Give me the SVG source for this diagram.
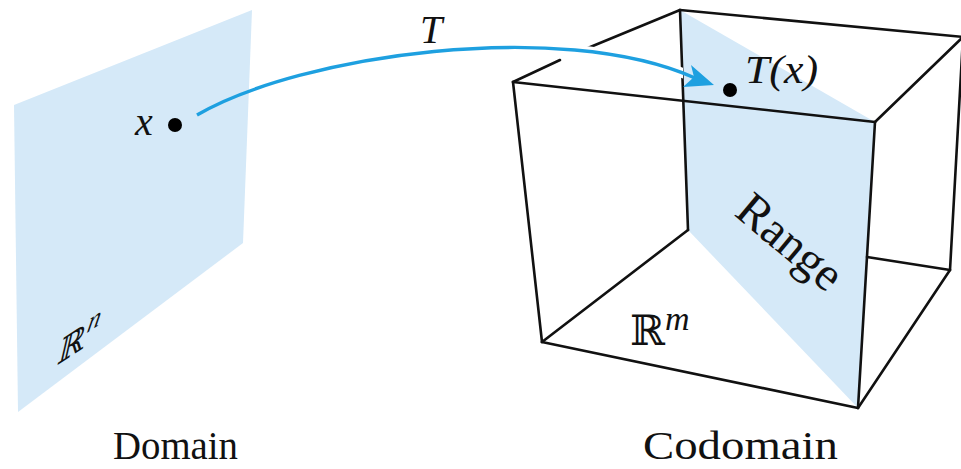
<svg xmlns="http://www.w3.org/2000/svg" width="961" height="469" viewBox="0 0 961 469">
<style>
.plane{fill:#d5e9f8;stroke:none}
.edge{stroke:#111;stroke-width:2.6;fill:none;stroke-linecap:round}
.math{font-style:italic;fill:#111}
.cap{fill:#111}
.arrow{stroke:#1ea0e0;stroke-width:3.4;fill:none}
</style>
<defs>
<clipPath id="haloClip"><rect x="545" y="0" width="138" height="469"/></clipPath>
</defs>
<g id="domain">
<polygon class="plane" points="14,105 252,10 243,243 18,412"/>
<circle cx="175" cy="125" r="7" fill="#000"/>
<text class="math" font-family="Liberation Serif, serif" x="135" y="135" font-size="40">x</text>
<g transform="translate(56,366) skewY(-33) skewX(-15)">
<text font-family="DejaVu Serif, serif" fill="#111" x="0" y="0" font-size="32">ℝ<tspan font-family="Liberation Serif, serif" font-style="italic" font-size="26" dy="-13">n</tspan></text>
</g>
<text class="cap" font-family="Liberation Serif, serif" x="113" y="459" font-size="40" textLength="125" lengthAdjust="spacingAndGlyphs">Domain</text>
</g>
<g id="codomain">
<polygon class="plane" points="680,10 875,122 858,408 688,230"/>
<line class="edge" x1="680" y1="10" x2="583" y2="50"/>
<line class="edge" x1="560" y1="60" x2="513" y2="82"/>
<line class="edge" x1="680" y1="10" x2="688" y2="230"/>
<line class="edge" x1="867" y1="257" x2="950" y2="270"/>
<line class="edge" x1="680" y1="10" x2="963" y2="37"/>
<line class="edge" x1="963" y1="37" x2="950" y2="270"/>
<text font-family="DejaVu Serif, serif" fill="#111" x="630" y="345" font-size="42">ℝ<tspan font-family="Liberation Serif, serif" font-style="italic" font-size="34" dy="-15">m</tspan></text>
<text class="cap" font-family="Liberation Serif, serif" x="643" y="459" font-size="40" textLength="195" lengthAdjust="spacingAndGlyphs">Codomain</text>
</g>
<g id="connectors">
<path d="M197,115 C300,55 560,18 695,78" stroke="#fff" stroke-width="10" fill="none" clip-path="url(#haloClip)"/>
<path class="arrow" d="M197,115 C300,55 560,18 695,78"/>
<polygon points="714,85 691,65 694,77 683,87" fill="#1ea0e0"/>
</g>
<g id="codomain-front">
<line class="edge" x1="513" y1="82" x2="875" y2="122"/>
<line class="edge" x1="513" y1="82" x2="542" y2="342"/>
<line class="edge" x1="542" y1="342" x2="858" y2="408"/>
<line class="edge" x1="542" y1="342" x2="688" y2="230"/>
<line class="edge" x1="875" y1="122" x2="858" y2="408"/>
<line class="edge" x1="875" y1="122" x2="963" y2="37"/>
<line class="edge" x1="950" y1="270" x2="858" y2="408"/>
<circle cx="730" cy="90" r="7" fill="#000"/>
<text class="math" font-family="Liberation Serif, serif" x="745" y="83" font-size="40" textLength="73" lengthAdjust="spacingAndGlyphs">T(x)</text>
<text class="cap" font-family="Liberation Serif, serif" x="780" y="254" font-size="48" text-anchor="middle" transform="rotate(40 780 254)">Range</text>
</g>
<text class="math" font-family="Liberation Serif, serif" x="420" y="43" font-size="40">T</text>
</svg>
